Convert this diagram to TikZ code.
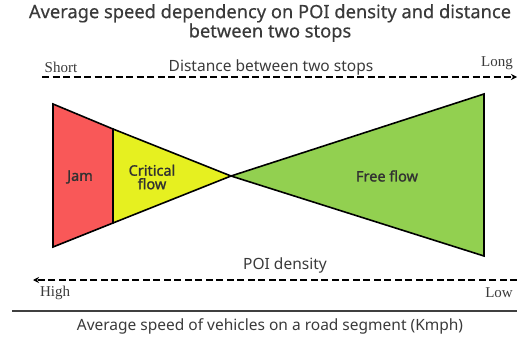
\documentclass[tikz,border=0pt]{standalone}
\usepackage{fontspec}
\setmainfont{Noto Sans}
\newfontfamily\serifl{Liberation Serif}
\newfontfamily\zonefont[FakeBold=1.3]{Noto Sans}
\newfontfamily\titlefont[FakeBold=0.4]{Noto Sans}
\usetikzlibrary{arrows.meta}
\definecolor{jamred}{HTML}{F95858}
\definecolor{crityellow}{HTML}{E6F020}
\definecolor{freegreen}{HTML}{92D050}
\definecolor{txtgray}{HTML}{3A3A3A}
\tikzset{
  region/.style={draw=black, line width=1.6pt, line join=miter},
  axisarrow/.style={line width=1.8pt, dash pattern=on 7pt off 3.5pt, -{Stealth[length=6pt,width=6pt]}},
  serlab/.style={font=\serifl\fontsize{15}{17}\selectfont, text=txtgray, inner sep=0pt},
  sanslab/.style={font=\fontsize{15.5}{17}\selectfont, text=txtgray, inner sep=0pt},
  zonelab/.style={font=\zonefont\fontsize{14.5}{13.5}\selectfont, text=txtgray!85!black, align=center, inner sep=0pt}
}
\begin{document}
\begin{tikzpicture}[x=1pt,y=-1pt]
\useasboundingbox (0,0) rectangle (517,337);
% title
\node[font=\titlefont\fontsize{18.3}{16.5}\selectfont, text=txtgray, align=center, inner sep=0pt] (title) at (270,23)
  {Average speed dependency on POI density and distance\\between two stops};
% top axis
\coordinate (ts) at (42,77);
\coordinate (te) at (517,77);
\draw[axisarrow] (ts) -- (te);
\node[serlab] (short) at (61,67) {Short};
\node[serlab] (long) at (497,63) {Long};
\node[sanslab] (dist) at (271,67) {Distance between two stops};
% regions
\coordinate (a) at (53,104);
\coordinate (b) at (113,129);
\coordinate (c) at (113,223);
\coordinate (d) at (53,247);
\coordinate (tip) at (231,176);
\coordinate (g1) at (484,94);
\coordinate (g2) at (484,256);
\fill[jamred] (a) -- (b) -- (c) -- (d) -- cycle;
\fill[crityellow] (b) -- (tip) -- (c) -- cycle;
\fill[freegreen] (tip) -- (g1) -- (g2) -- cycle;
\draw[region] (a) -- (b) -- (c) -- (d) -- cycle;
\draw[region] (b) -- (tip) -- (c);
\draw[region] (tip) -- (g1) -- (g2) -- cycle;
\node[zonelab] (jam) at (80,177) {Jam};
\node[zonelab] (crit) at (152,177) {Critical\\flow};
\node[zonelab] (free) at (387,176) {Free flow};
% bottom axis
\coordinate (bs) at (517,280);
\coordinate (be) at (33,280);
\draw[axisarrow] (bs) -- (be);
\node[sanslab] (poi) at (285,265) {POI density};
\node[serlab] (high) at (55,293) {High};
\node[serlab] (low) at (499,293) {Low};
% base line
\coordinate (l1) at (12,311);
\coordinate (l2) at (517,311);
\draw[line width=1.6pt, draw=black!75] (l1) -- (l2);
\node[sanslab] (speed) at (270,326) {Average speed of vehicles on a road segment (Kmph)};
\end{tikzpicture}
\end{document}
